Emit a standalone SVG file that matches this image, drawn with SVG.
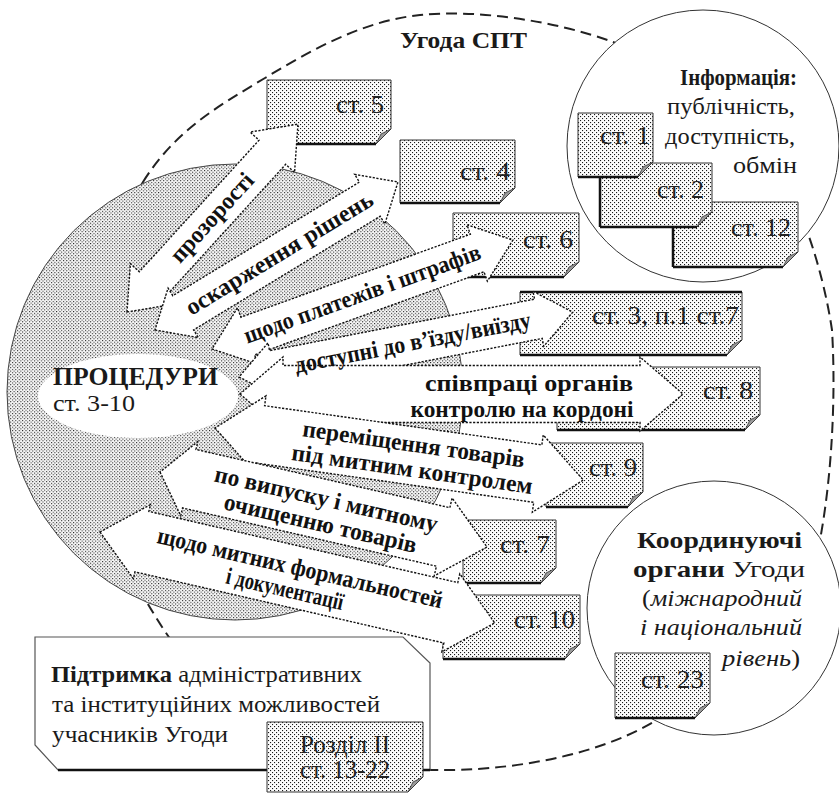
<svg xmlns="http://www.w3.org/2000/svg" width="839" height="794" viewBox="0 0 839 794">
<defs>
<pattern id="dots" width="4" height="4" patternUnits="userSpaceOnUse">
<rect width="4" height="4" fill="#fcfcfc"/>
<rect width="1.1" height="1.1" fill="#1a1a1a"/>
<rect x="2" y="2" width="1.1" height="1.1" fill="#1a1a1a"/>
</pattern>
<pattern id="dotsp" width="3.4" height="3.4" patternUnits="userSpaceOnUse">
<rect width="3.4" height="3.4" fill="#f8f8f8"/>
<rect width="1.05" height="1.05" fill="#1a1a1a"/>
<rect x="1.7" y="1.7" width="1.05" height="1.05" fill="#1a1a1a"/>
</pattern>
</defs>
<style>
.t{font-family:"Liberation Serif","Times New Roman",serif;fill:#1a1a1a}
.b{font-weight:bold}
.i{font-style:italic}
.lab{font-family:"Liberation Serif","Times New Roman",serif;font-weight:bold;font-size:24px;text-anchor:middle;fill:#111}
.nt{font-family:"Liberation Serif","Times New Roman",serif;font-size:25px;text-anchor:end;fill:#222}
.note{fill:url(#dots);stroke:#333;stroke-width:1}
.fold{fill:#9a9a9a;stroke:#333;stroke-width:0.8}
.shadow{stroke:#111;stroke-width:2.5;fill:none}
.arrow{fill:#fff;stroke:#111;stroke-width:1.4;stroke-dasharray:2.2 1.5}
.circ{fill:#fff;stroke:#333;stroke-width:1}
</style>
<rect width="839" height="794" fill="#fff"/>

<g id="agreement">
<path d="M143,182 C175.5,130 218.8,105.8 265,78 C311.2,50.2 362,21 420,15 C478,9 556.3,21.2 613,42 C669.7,62.8 722.7,93.7 760,140 C796.5,188 822,263.3 832,330 C836,395 832,475 820,540 C810,610 720.8,681.7 657,720 C593.2,758.3 504.8,770.8 437,770 C369.2,769.2 299.5,745 250,715 C200.5,685 170,644.2 140,590 C110,535.8 69.5,458 70,390 C70.5,322 110.5,234 143,182 Z" fill="none" stroke="#222" stroke-width="2" stroke-dasharray="11 6"/>
<text class="t b" x="400" y="48" font-size="23" textLength="127" lengthAdjust="spacingAndGlyphs">Угода СПТ</text>
</g>

<g id="procedures-area">
<circle cx="235" cy="392" r="228" fill="url(#dotsp)" stroke="#444" stroke-width="1"/>
</g>

<g id="notes">
<g id="n5"><path class="note" d="M267,80 H391 V129 L376,144 H267 Z"/><path class="fold" d="M391,129 L376,144 L381,134 Z"/><path class="shadow" d="M267,144 H376"/><text class="nt" x="384" y="113" textLength="48" lengthAdjust="spacingAndGlyphs">ст. 5</text></g>
<g id="n4"><path class="note" d="M400,140 H515 V188 L500,203 H400 Z"/><path class="fold" d="M515,188 L500,203 L505,193 Z"/><path class="shadow" d="M400,203 H500"/><text class="nt" x="510" y="180" textLength="50" lengthAdjust="spacingAndGlyphs">ст. 4</text></g>
<g id="n6"><path class="note" d="M453,213 H579 V262 L564,277 H453 Z"/><path class="fold" d="M579,262 L564,277 L569,267 Z"/><path class="shadow" d="M453,277 H564"/><text class="nt" x="573" y="248" textLength="50" lengthAdjust="spacingAndGlyphs">ст. 6</text></g>
<g id="n3"><path class="note" d="M520,292 H742 V340 L727,355 H520 Z"/><path class="fold" d="M742,340 L727,355 L732,345 Z"/><path class="shadow" d="M520,355 H727 M520,292 H742"/><text class="nt" x="739" y="324" textLength="147" lengthAdjust="spacingAndGlyphs">ст. 3, п.1 ст.7</text></g>
<g id="n8"><path class="note" d="M557,367 H760 V415 L745,430 H557 Z"/><path class="fold" d="M760,415 L745,430 L750,420 Z"/><path class="shadow" d="M557,430 H745"/><text class="nt" x="753" y="399" textLength="50" lengthAdjust="spacingAndGlyphs">ст. 8</text></g>
<g id="n9"><path class="note" d="M546,443 H643 V492 L628,507 H546 Z"/><path class="fold" d="M643,492 L628,507 L633,497 Z"/><path class="shadow" d="M546,507 H628"/><text class="nt" x="637" y="476" textLength="48" lengthAdjust="spacingAndGlyphs">ст. 9</text></g>
<g id="n7"><path class="note" d="M463,520 H556 V568 L541,583 H463 Z"/><path class="fold" d="M556,568 L541,583 L546,573 Z"/><path class="shadow" d="M463,583 H541"/><text class="nt" x="550" y="553" textLength="50" lengthAdjust="spacingAndGlyphs">ст. 7</text></g>
<g id="n10"><path class="note" d="M443,595 H580 V644 L565,659 H443 Z"/><path class="fold" d="M580,644 L565,659 L570,649 Z"/><path class="shadow" d="M443,659 H565"/><text class="nt" x="575" y="628" textLength="61" lengthAdjust="spacingAndGlyphs">ст. 10</text></g>
</g>

<g id="connectors">
<polygon class="arrow" transform="translate(127,312) rotate(-47.7)" points="0,0 38,30 38,18 216,18 216,30 254,0 216,-30 216,-18 38,-18 38,-30"/>
<polygon class="arrow" transform="translate(155,330) rotate(-31.35)" points="0,0 33,29 33,20 251.5,20 251.5,29 284.5,0 251.5,-29 251.5,-20 33,-20 33,-29"/>
<polygon class="arrow" transform="translate(212,349) rotate(-19.9)" points="0,0 38,30 38,20 282,20 282,30 320,0 282,-30 282,-20 38,-20 38,-30"/>
<polygon class="arrow" transform="translate(239,377) rotate(-11)" points="0,0 35,28 35,20 305,20 305,28 340,0 305,-28 305,-20 35,-20 35,-28"/>
<polygon class="arrow" transform="translate(240,394)" points="0,0 43,37 43,28.5 400,28.5 400,37 443,0 400,-37 400,-28.5 43,-28.5 43,-37"/>
<polygon class="arrow" transform="translate(215,428) rotate(8.04)" points="0,0 46,39 46,29 326,29 326,39 372,0 326,-39 326,-29 46,-29 46,-39"/>
<polygon class="arrow" transform="translate(160,472) rotate(12.92)" points="0,0 30,38 30,30 290.5,30 290.5,40 335.5,0 290.5,-40 290.5,-30 30,-30 30,-38"/>
<polygon class="arrow" transform="translate(100,532) rotate(12.97)" points="0,0 43,38 43,31 360,31 360,40 405,0 360,-40 360,-31 43,-31 43,-38"/>
</g>

<g id="procedures">
<ellipse cx="138" cy="396" rx="100" ry="42" fill="#fff"/>
<text class="t b" x="53" y="385" font-size="26" textLength="165" lengthAdjust="spacingAndGlyphs">ПРОЦЕДУРИ</text>
<text class="t" x="53" y="411" font-size="23" textLength="82" lengthAdjust="spacingAndGlyphs">ст. 3-10</text>
</g>

<g id="connector-labels">
<g transform="translate(127,312) rotate(-47.7)"><text class="lab" x="127" y="7" textLength="112" lengthAdjust="spacingAndGlyphs">прозорості</text></g>
<g transform="translate(155,330) rotate(-31.35)"><text class="lab" x="146" y="7" textLength="215" lengthAdjust="spacingAndGlyphs">оскарження рішень</text></g>
<g transform="translate(212,349) rotate(-19.9)"><text class="lab" x="160" y="7" textLength="250" lengthAdjust="spacingAndGlyphs">щодо платежів і штрафів</text></g>
<g transform="translate(239,377) rotate(-11)"><text class="lab" x="177" y="7" textLength="240" lengthAdjust="spacingAndGlyphs">доступні до в’їзду/виїзду</text></g>
<text class="lab" x="529" y="391" textLength="208" lengthAdjust="spacingAndGlyphs">співпраці органів</text>
<text class="lab" x="522" y="417" textLength="223" lengthAdjust="spacingAndGlyphs">контролю на кордоні</text>
<g transform="translate(215,428) rotate(8.04)"><text class="lab" x="199" y="-4" textLength="224" lengthAdjust="spacingAndGlyphs">переміщення товарів</text><text class="lab" x="201" y="21" textLength="243" lengthAdjust="spacingAndGlyphs">під митним контролем</text></g>
<g transform="translate(160,472) rotate(12.92)"><text class="lab" x="168" y="-3" textLength="228" lengthAdjust="spacingAndGlyphs">по випуску і митному</text><text class="lab" x="168" y="22" textLength="197" lengthAdjust="spacingAndGlyphs">очищенню товарів</text></g>
<g transform="translate(100,532) rotate(12.97)"><text class="lab" x="203" y="-2" textLength="292" lengthAdjust="spacingAndGlyphs">щодо митних формальностей</text><text class="lab" x="193" y="22" textLength="120" lengthAdjust="spacingAndGlyphs">і документації</text></g>
</g>

<g id="information">
<circle class="circ" cx="703" cy="146" r="136"/>
<g id="n12"><path class="note" d="M673,202 H798 V252 L783,267 H673 Z"/><path class="fold" d="M798,252 L783,267 L788,257 Z"/><path class="shadow" d="M673,267 H783 M673,202 V267"/><text class="nt" x="791" y="236" textLength="60" lengthAdjust="spacingAndGlyphs">ст. 12</text></g>
<g id="n2"><path class="note" d="M600,163 H712 V212 L697,227 H600 Z"/><path class="fold" d="M712,212 L697,227 L702,217 Z"/><path class="shadow" d="M600,227 H697 M600,163 V227"/><text class="nt" x="704" y="198" textLength="47" lengthAdjust="spacingAndGlyphs">ст. 2</text></g>
<g id="n1"><path class="note" d="M578,113 H653 V162 L638,177 H578 Z"/><path class="fold" d="M653,162 L638,177 L643,167 Z"/><path class="shadow" d="M578,177 H638"/><text class="nt" x="650" y="144" textLength="50" lengthAdjust="spacingAndGlyphs">ст. 1</text></g>
<text class="t b" x="797" y="85" font-size="24" text-anchor="end" textLength="117" lengthAdjust="spacingAndGlyphs">Інформація:</text>
<text class="t" x="795" y="114" font-size="24" text-anchor="end" textLength="128" lengthAdjust="spacingAndGlyphs">публічність,</text>
<text class="t" x="795" y="144" font-size="24" text-anchor="end" textLength="130" lengthAdjust="spacingAndGlyphs">доступність,</text>
<text class="t" x="797" y="173" font-size="24" text-anchor="end" textLength="64" lengthAdjust="spacingAndGlyphs">обмін</text>
</g>

<g id="coordination">
<circle class="circ" cx="714" cy="608" r="127"/>
<g id="n23"><path class="note" d="M615,653 H710 V703 L695,718 H615 Z"/><path class="fold" d="M710,703 L695,718 L700,708 Z"/><path class="shadow" d="M615,718 H695"/><text class="nt" x="704" y="688" textLength="63" lengthAdjust="spacingAndGlyphs">ст. 23</text></g>
<text class="t b" x="802" y="548" font-size="24" text-anchor="end" textLength="165" lengthAdjust="spacingAndGlyphs">Координуючі</text>
<text class="t" x="805" y="577" font-size="24" text-anchor="end" textLength="172" lengthAdjust="spacingAndGlyphs"><tspan class="b">органи</tspan> Угоди</text>
<text class="t" x="802" y="606" font-size="24" text-anchor="end" textLength="160" lengthAdjust="spacingAndGlyphs">(<tspan class="i">міжнародний</tspan></text>
<text class="t i" x="802" y="635" font-size="24" text-anchor="end" textLength="162" lengthAdjust="spacingAndGlyphs">і національний</text>
<text class="t" x="800" y="666" font-size="24" text-anchor="end" textLength="78" lengthAdjust="spacingAndGlyphs"><tspan class="i">рівень</tspan>)</text>
</g>

<g id="support">
<path d="M35,637 H403 L430,663 V770 H58 L35,745 Z" fill="#fff" stroke="#555" stroke-width="1.2"/>
<path class="shadow" d="M58,770 H430" stroke-width="3"/>
<text class="t" x="51" y="682" font-size="24" textLength="311" lengthAdjust="spacingAndGlyphs"><tspan class="b">Підтримка</tspan> адміністративних</text>
<text class="t" x="52" y="712" font-size="24" textLength="328" lengthAdjust="spacingAndGlyphs">та інституційних можливостей</text>
<text class="t" x="52" y="742" font-size="24" textLength="176" lengthAdjust="spacingAndGlyphs">учасників Угоди</text>
<g id="nR"><path class="note" d="M267,722 H423 V777 L408,792 H267 Z"/><path class="fold" d="M423,777 L408,792 L413,782 Z"/><text class="nt" x="345" y="753" style="text-anchor:middle" textLength="90" lengthAdjust="spacingAndGlyphs">Розділ ІІ</text><text class="nt" x="345" y="778" style="text-anchor:middle" textLength="90" lengthAdjust="spacingAndGlyphs">ст. 13-22</text></g>
</g>
</svg>
